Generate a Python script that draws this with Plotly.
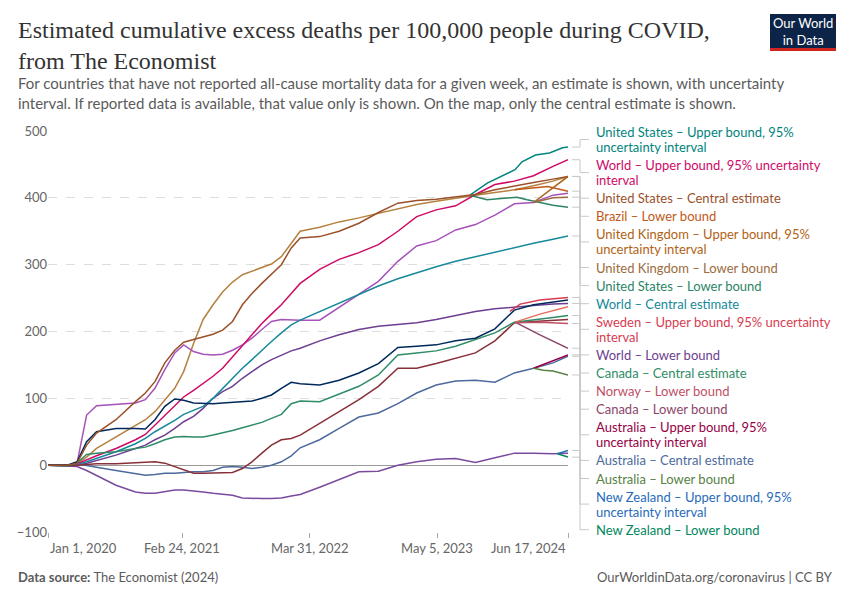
import plotly.graph_objects as go

# ---------------- data ----------------
dates = ["2020-01-01", "2020-03-01", "2020-04-01", "2020-05-01", "2020-06-01", "2020-08-01",
         "2020-10-01", "2020-11-01", "2020-12-01", "2021-01-01", "2021-02-01", "2021-03-01",
         "2021-04-01", "2021-05-01", "2021-06-01", "2021-07-01", "2021-08-01", "2021-09-01",
         "2021-10-01", "2021-11-01", "2021-12-01", "2022-01-01", "2022-02-01", "2022-03-01",
         "2022-05-01", "2022-07-01", "2022-09-01", "2022-11-01", "2023-01-01", "2023-03-01",
         "2023-05-01", "2023-07-01", "2023-09-01", "2023-11-01", "2024-01-01", "2024-03-01",
         "2024-05-01", "2024-06-17"]

world_upper = [0, 0, 2, 8, 14, 25, 38, 46, 60, 74, 88, 102, 112, 122, 133, 145, 162, 178, 196, 212,
               226, 240, 257, 272, 293, 308, 318, 330, 350, 372, 382, 388, 405, 420, 425, 433, 447, 457]
world_central = [0, 0, 1, 5, 10, 20, 32, 40, 50, 58, 67, 76, 82, 88, 100, 115, 130, 145, 158, 172,
                 185, 198, 210, 217, 230, 243, 256, 268, 279, 288, 297, 305, 312, 318, 325, 332, 338, 343]
world_lower = [0, 0, 0, 3, 7, 15, 25, 30, 38, 45, 55, 65, 73, 85, 100, 110, 118, 130, 140, 150,
               158, 165, 171, 175, 186, 195, 203, 208, 210, 213, 218, 224, 230, 234, 237, 239, 241, 242]
us_central = [0, 0, 3, 30, 48, 68, 95, 108, 125, 153, 172, 184, 188, 192, 196, 202, 215, 240, 257, 272,
              286, 300, 325, 340, 342, 350, 362, 378, 392, 396, 398, 401, 405, 412, 418, 423, 428, 432]
brazil_central = [0, 0, 2, 12, 25, 42, 60, 68, 80, 98, 115, 140, 182, 218, 240, 259, 274, 285, 290, 296,
                  301, 312, 332, 350, 356, 364, 370, 377, 383, 390, 395, 400, 404, 408, 412, 418, 425, 432]
uk_central = [0, 0, 3, 75, 89, 91, 93, 98, 115, 143, 168, 180, 170, 166, 165, 166, 172, 180, 190, 203,
              215, 218, 217, 217, 217, 236, 255, 275, 305, 328, 336, 352, 360, 374, 391, 393, 404, 407]
sweden_central = [0, 0, 5, 35, 50, 55, 55, 54, 68, 88, 99, 97, 93, 92, 92, 93, 94, 94, 96, 100,
                  105, 115, 124, 122, 120, 127, 138, 152, 176, 178, 180, 186, 190, 204, 232, 240, 244, 247]
canada_central = [0, -1, 3, 16, 18, 20, 25, 27, 32, 38, 42, 43, 42, 42, 45, 48, 52, 56, 60, 64,
                  70, 76, 92, 96, 95, 106, 118, 135, 165, 168, 171, 178, 188, 198, 214, 218, 221, 224]
norway_central = [0, -1, 0, 1, 2, 2, 4, 5, 5, 3, -2, -7, -12, -12, -12, -12, -11, -5, 5, 18,
                  30, 38, 40, 45, 62, 80, 98, 118, 145, 145, 152, 160, 168, 186, 213, 215, 217, 218]
australia_central = [0, -1, 2, 0, -3, -8, -13, -15, -14, -12, -12, -11, -10, -10, -8, -3, -2, -3, -5, -3,
                     0, 5, 14, 26, 38, 55, 72, 78, 92, 108, 120, 126, 127, 124, 138, 145, 153, 163]
nz_central = [0, -1, -2, -8, -15, -30, -40, -42, -42, -39, -37, -37, -38, -40, -42, -43, -45, -49, -50, -50,
              -50, -49, -46, -44, -33, -22, -10, -9, 0, 5, 9, 10, 4, 11, 18, 18, 17, 18]

# uncertainty branches (only where they leave the reported/central line)
us_upper_dates = ["2023-08-15", "2023-10-08", "2024-01-03", "2024-01-25", "2024-03-07", "2024-04-20", "2024-05-31", "2024-06-17"]
us_upper = [404, 422, 442, 454, 464, 467, 475, 476]
us_lower_dates = ["2023-08-15", "2023-10-07", "2024-01-09", "2024-02-10", "2024-05-01", "2024-06-17"]
us_lower = [404, 397, 401, 397, 389, 386]
brazil_lower_dates = ["2024-01-01", "2024-04-15", "2024-06-17"]
brazil_lower = [412, 417, 410]
uk_upper_dates = ["2024-03-01", "2024-05-01", "2024-06-17"]
uk_upper = [393, 415, 432]
uk_lower_dates = ["2024-03-01", "2024-05-01", "2024-06-17"]
uk_lower = [393, 400, 401]
sweden_upper_dates = ["2023-12-18", "2024-01-19", "2024-03-21", "2024-06-17"]
sweden_upper = [230, 241, 247, 251]
canada_upper_dates = ["2024-01-03", "2024-03-21", "2024-06-17"]
canada_upper = [214, 226, 237]
canada_lower_dates = ["2024-01-03", "2024-03-21", "2024-06-17"]
canada_lower = [214, 195, 175]
norway_lower_dates = ["2024-01-03", "2024-03-21", "2024-06-17"]
norway_lower = [213, 214, 212]
australia_upper_dates = ["2024-03-01", "2024-05-01", "2024-06-17"]
australia_upper = [145, 156, 165]
australia_lower_dates = ["2024-03-01", "2024-04-01", "2024-05-01", "2024-06-17"]
australia_lower = [145, 142, 141, 135]
nz_upper_dates = ["2024-05-15", "2024-06-17"]
nz_upper = [17, 22]
nz_lower_dates = ["2024-05-15", "2024-06-17"]
nz_lower = [17, 12]

tick_dates = ["2020-01-01", "2021-02-24", "2022-03-31", "2023-05-05", "2024-06-17"]
tick_labels = ["Jan 1, 2020", "Feb 24, 2021", "Mar 31, 2022", "May 5, 2023", "Jun 17, 2024"]
y_ticks = [-100, 0, 100, 200, 300, 400, 500]

# ---------------- styling ----------------
C = {
    "us_up": "#00847E", "world_up": "#CF0A66", "us_c": "#9A5129", "br_lo": "#C05917",
    "uk_up": "#B16214", "uk_lo": "#9C6B3C", "us_lo": "#2C8465", "world_c": "#16899A",
    "se_up": "#D73C50", "world_lo": "#6D3E91", "ca_c": "#2E8C66", "no_lo": "#C15065",
    "ca_lo": "#8C4569", "au_up": "#970046", "au_c": "#4C6A9C", "au_lo": "#578145",
    "nz_up": "#286BBB", "nz_lo": "#00875E",
    "br_c": "#B5813F", "uk_c": "#A652BA", "se_c": "#00295B", "no_c": "#883039",
    "nz_c": "#7A4A9E", "ca_up": "#E56E5A",
}

series = [
    ("Brazil – Central estimate", dates, brazil_central, C["br_c"]),
    ("United Kingdom – Central estimate", dates, uk_central, C["uk_c"]),
    ("World – Lower bound", dates, world_lower, C["world_lo"]),
    ("World – Central estimate", dates, world_central, C["world_c"]),
    ("World – Upper bound", dates, world_upper, C["world_up"]),
    ("New Zealand – Central estimate", dates, nz_central, C["nz_c"]),
    ("Australia – Central estimate", dates, australia_central, C["au_c"]),
    ("Norway – Central estimate", dates, norway_central, C["no_c"]),
    ("Canada – Central estimate", dates, canada_central, C["ca_c"]),
    ("Sweden – Central estimate", dates, sweden_central, C["se_c"]),
    ("United States – Upper bound", us_upper_dates, us_upper, C["us_up"]),
    ("United States – Lower bound", us_lower_dates, us_lower, C["us_lo"]),
    ("United States – Central estimate", dates, us_central, C["us_c"]),
    ("Brazil – Lower bound", brazil_lower_dates, brazil_lower, C["br_lo"]),
    ("United Kingdom – Upper bound", uk_upper_dates, uk_upper, C["uk_up"]),
    ("United Kingdom – Lower bound", uk_lower_dates, uk_lower, C["uk_lo"]),
    ("Sweden – Upper bound", sweden_upper_dates, sweden_upper, C["se_up"]),
    ("Canada – Upper bound", canada_upper_dates, canada_upper, C["ca_up"]),
    ("Canada – Lower bound", canada_lower_dates, canada_lower, C["ca_lo"]),
    ("Norway – Lower bound", norway_lower_dates, norway_lower, C["no_lo"]),
    ("Australia – Upper bound", australia_upper_dates, australia_upper, C["au_up"]),
    ("Australia – Lower bound", australia_lower_dates, australia_lower, C["au_lo"]),
    ("New Zealand – Upper bound", nz_upper_dates, nz_upper, C["nz_up"]),
    ("New Zealand – Lower bound", nz_lower_dates, nz_lower, C["nz_lo"]),
]

labels = [
    (["United States – Upper bound, 95%", "uncertainty interval"], C["us_up"], us_upper[-1]),
    (["World – Upper bound, 95% uncertainty", "interval"], C["world_up"], world_upper[-1]),
    (["United States – Central estimate"], C["us_c"], us_central[-1]),
    (["Brazil – Lower bound"], C["br_lo"], brazil_lower[-1]),
    (["United Kingdom – Upper bound, 95%", "uncertainty interval"], C["uk_up"], uk_upper[-1]),
    (["United Kingdom – Lower bound"], C["uk_lo"], uk_lower[-1]),
    (["United States – Lower bound"], C["us_lo"], us_lower[-1]),
    (["World – Central estimate"], C["world_c"], world_central[-1]),
    (["Sweden – Upper bound, 95% uncertainty", "interval"], C["se_up"], sweden_upper[-1]),
    (["World – Lower bound"], C["world_lo"], world_lower[-1]),
    (["Canada – Central estimate"], C["ca_c"], canada_central[-1]),
    (["Norway – Lower bound"], C["no_lo"], norway_lower[-1]),
    (["Canada – Lower bound"], C["ca_lo"], canada_lower[-1]),
    (["Australia – Upper bound, 95%", "uncertainty interval"], C["au_up"], australia_upper[-1]),
    (["Australia – Central estimate"], C["au_c"], australia_central[-1]),
    (["Australia – Lower bound"], C["au_lo"], australia_lower[-1]),
    (["New Zealand – Upper bound, 95%", "uncertainty interval"], C["nz_up"], nz_upper[-1]),
    (["New Zealand – Lower bound"], C["nz_lo"], nz_lower[-1]),
]

# ---------------- layout geometry ----------------
FIG_W, FIG_H = 850, 600
L, T, W, H = 48, 131, 520, 401
Y_MIN, Y_MAX = -100, 500
FONT = "Lato, 'Noto Sans', sans-serif"
GREY = "#5b5b5b"


def py_of(v):
    return T + H * (Y_MAX - v) / (Y_MAX - Y_MIN)


def paper_x(px):
    return (px - L) / W


def paper_y(py):
    return (T + H - py) / H


fig = go.Figure()
for name, xs, ys, color in series:
    fig.add_trace(go.Scatter(x=xs, y=ys, mode="lines", name=name,
                             line=dict(color=color, width=1.5),
                             showlegend=False, hoverinfo="skip"))

annotations = []
shapes = []

# right-hand labels with leader lines
LINE_H, GAP = 15, 3.1
ypos = 132
for lines, color, end_val in labels:
    for i, txt in enumerate(lines):
        annotations.append(dict(text=txt, x=paper_x(594), y=paper_y(ypos + i * LINE_H),
                                xref="paper", yref="paper", xanchor="left", yanchor="middle",
                                showarrow=False, font=dict(family=FONT, size=13, color=color)))
    mid = ypos + (len(lines) - 1) * LINE_H / 2
    ye = py_of(end_val)
    path = (f"M {paper_x(572)} {paper_y(ye)} L {paper_x(580)} {paper_y(ye)} "
            f"L {paper_x(580)} {paper_y(mid)} L {paper_x(589)} {paper_y(mid)}")
    shapes.append(dict(type="path", path=path, xref="paper", yref="paper",
                       line=dict(color="#c8c8c8", width=1), layer="below"))
    ypos += len(lines) * LINE_H + GAP

# x tick labels
anchors = ["left", "center", "center", "center", "right"]
for d, t, a in zip(tick_dates, tick_labels, anchors):
    annotations.append(dict(text=t, x=d, xref="x", y=paper_y(548), yref="paper",
                            xanchor=a, yanchor="middle", showarrow=False,
                            font=dict(family=FONT, size=13, color="#666666")))

# title, subtitle, footer
annotations.append(dict(text="Estimated cumulative excess deaths per 100,000 people during COVID,<br>from The Economist",
                        x=paper_x(16), y=paper_y(15), xref="paper", yref="paper",
                        xanchor="left", yanchor="top", align="left", showarrow=False,
                        font=dict(family="'Liberation Serif', 'DejaVu Serif', serif", size=24, color="#333333")))
annotations.append(dict(text="For countries that have not reported all-cause mortality data for a given week, an estimate is shown, with uncertainty<br>interval. If reported data is available, that value only is shown. On the map, only the central estimate is shown.",
                        x=paper_x(16), y=paper_y(72), xref="paper", yref="paper",
                        xanchor="left", yanchor="top", align="left", showarrow=False,
                        font=dict(family=FONT, size=15, color=GREY)))
annotations.append(dict(text="<b>Data source:</b> The Economist (2024)",
                        x=paper_x(16), y=paper_y(577), xref="paper", yref="paper",
                        xanchor="left", yanchor="middle", showarrow=False,
                        font=dict(family=FONT, size=13, color=GREY)))
annotations.append(dict(text="OurWorldinData.org/coronavirus | CC BY",
                        x=paper_x(835), y=paper_y(577), xref="paper", yref="paper",
                        xanchor="right", yanchor="middle", showarrow=False,
                        font=dict(family=FONT, size=13, color=GREY)))

# logo
shapes.append(dict(type="rect", xref="paper", yref="paper",
                   x0=paper_x(770), x1=paper_x(836), y0=paper_y(51), y1=paper_y(14),
                   fillcolor="#0c2447", line=dict(width=0), layer="above"))
shapes.append(dict(type="rect", xref="paper", yref="paper",
                   x0=paper_x(770), x1=paper_x(836), y0=paper_y(51), y1=paper_y(48),
                   fillcolor="#ce261e", line=dict(width=0), layer="above"))
annotations.append(dict(text="Our World<br>in Data", x=paper_x(803), y=paper_y(31),
                        xref="paper", yref="paper", xanchor="center", yanchor="middle",
                        showarrow=False, align="center",
                        font=dict(family="'Liberation Sans Narrow', Lato, sans-serif", size=13, color="white")))

fig.update_layout(
    width=FIG_W, height=FIG_H, autosize=False,
    margin=dict(l=L, r=FIG_W - L - W, t=T, b=FIG_H - T - H, pad=0),
    paper_bgcolor="white", plot_bgcolor="white",
    font=dict(family=FONT, size=13, color="#666666"),
    annotations=annotations, shapes=shapes, showlegend=False,
    xaxis=dict(type="date", range=[dates[0], dates[-1]], tickvals=tick_dates,
               showticklabels=False, ticks="outside", ticklen=5, tickcolor="#aaaaaa",
               showgrid=False, zeroline=False, showline=False, fixedrange=True),
    yaxis=dict(range=[Y_MIN, Y_MAX], tickvals=y_ticks, ticks="",
               showgrid=True, gridcolor="#dddddd", griddash="dash", gridwidth=1,
               zeroline=True, zerolinecolor="#9a9a9a", zerolinewidth=1,
               showline=False, tickfont=dict(family=FONT, size=13, color="#666666"),
               fixedrange=True),
)

fig.write_html("out.html")
